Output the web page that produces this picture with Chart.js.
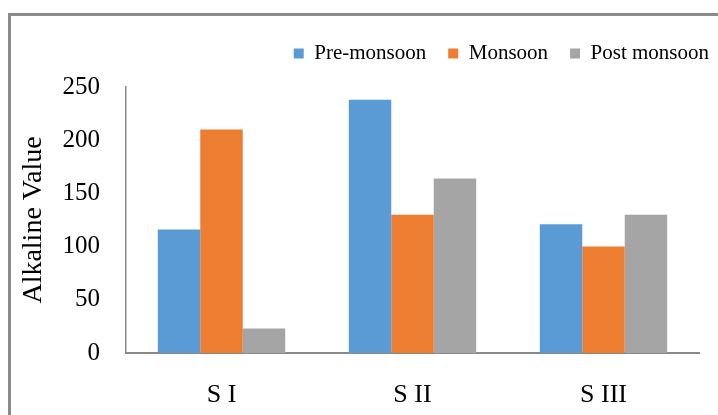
<!DOCTYPE html>
<html>
<head>
<meta charset="utf-8">
<script src="https://cdn.jsdelivr.net/npm/chart.js@4.4.1/dist/chart.umd.min.js"></script>
<style>
  html, body { margin: 0; padding: 0; background: #fff; overflow: hidden; }
  #wrap { position: relative; width: 718px; height: 415px; }
  #frame { position: absolute; left: 8px; top: 13px; width: 800px; height: 500px; border: 3px solid #8a8a8a; }
  #chart { position: absolute; left: 0; top: 0; }
</style>
</head>
<body>
<div id="wrap">
  <div id="frame"></div>
  <canvas id="chart" width="718" height="415"></canvas>
</div>
<script>
const sites = ['S I', 'S II', 'S III'];
const preMonsoon = [116, 238, 121];
const monsoon = [210, 130, 100];
const postMonsoon = [23, 164, 130];
const yTicks = [0, 50, 100, 150, 200, 250];

const serif = 'Liberation Serif';
const axisGrey = '#898989';

// move the legend row up and push it to the right edge
const legendPlace = {
  id: 'legendPlace',
  afterLayout(chart) {
    const lg = chart.legend;
    const pad = lg.options.labels.padding;
    const dy = 21 - lg.top;
    lg.top += dy;
    lg.bottom += dy;
    lg.right = 709 + pad;
  }
};

new Chart(document.getElementById('chart'), {
  type: 'bar',
  data: {
    labels: sites,
    datasets: [
      { label: 'Pre-monsoon', data: preMonsoon, backgroundColor: '#5B9BD5' },
      { label: 'Monsoon', data: monsoon, backgroundColor: '#ED7D31' },
      { label: 'Post monsoon', data: postMonsoon, backgroundColor: '#A5A5A5' }
    ]
  },
  options: {
    responsive: false,
    animation: false,
    layout: { padding: { top: 34, right: 19, bottom: 0, left: 0 } },
    datasets: { bar: { categoryPercentage: 0.667, barPercentage: 1 } },
    plugins: {
      legend: {
        position: 'top',
        align: 'end',
        labels: {
          boxWidth: 10,
          boxHeight: 10,
          padding: 22,
          color: '#000',
          font: { family: serif, size: 21 }
        }
      },
      tooltip: { enabled: false }
    },
    scales: {
      x: {
        grid: { display: false },
        border: { display: true, color: axisGrey, width: 2 },
        ticks: { color: '#000', padding: 19, font: { family: serif, size: 26 } },
        afterFit(scale) { scale.height = 62; }
      },
      y: {
        min: yTicks[0],
        max: yTicks[yTicks.length - 1],
        grid: { display: false },
        border: { display: true, color: axisGrey, width: 1.5 },
        ticks: {
          stepSize: yTicks[1] - yTicks[0],
          color: '#000',
          padding: 18,
          font: { family: serif, size: 25 }
        },
        title: {
          display: true,
          text: 'Alkaline Value',
          color: '#000',
          padding: { top: 19.5, bottom: 0 },
          font: { family: serif, size: 28, lineHeight: 1 }
        },
        afterFit(scale) { scale.width = 126; }
      }
    }
  },
  plugins: [legendPlace]
});
</script>
</body>
</html>
